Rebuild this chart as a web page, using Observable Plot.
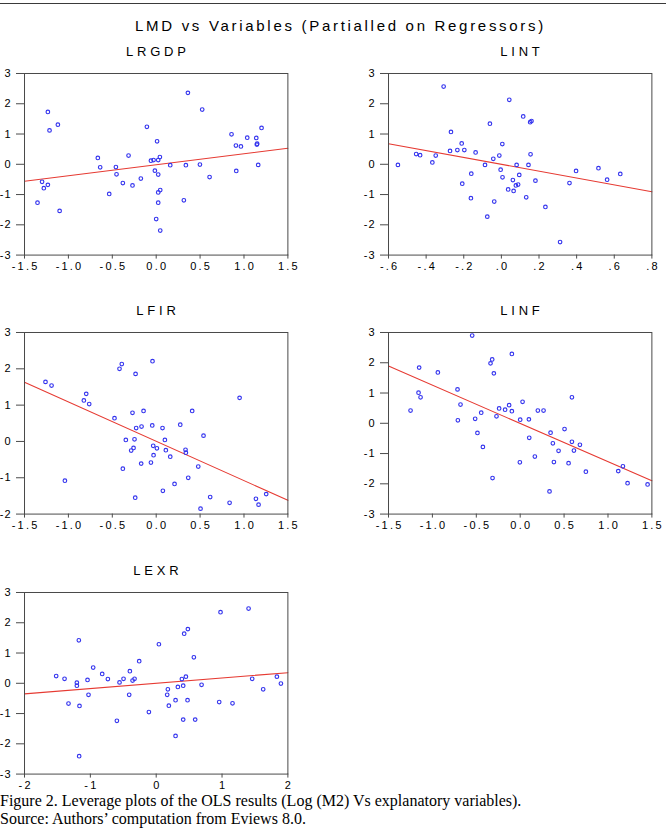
<!DOCTYPE html>
<html>
<head>
<meta charset="utf-8">
<script src="https://cdn.jsdelivr.net/npm/d3@7"></script>
<script src="https://cdn.jsdelivr.net/npm/@observablehq/plot@0.6"></script>
<style>
  body { margin: 0; background: #fff; }
  #page { position: relative; width: 666px; height: 831px; overflow: hidden; background: #fff;
          font-family: Arial, "Liberation Sans", sans-serif; color: #000; }
  .rule { position: absolute; left: 0; top: 2.6px; width: 666px; height: 1.6px; background: #3a3a3a; }
  .title { position: absolute; top: 18px; left: 135px; font-size: 15px;
           letter-spacing: 2.7px; white-space: nowrap; line-height: 1; }
  .ptitle { position: absolute; font-size: 13px; letter-spacing: 3.8px; white-space: nowrap; line-height: 1;
            transform: translateX(-50%); }
  .panel { position: absolute; }
  .caption { position: absolute; left: 0; font-family: "Liberation Serif", "Times New Roman", serif;
             font-size: 16px; white-space: nowrap; line-height: 1; }
</style>
</head>
<body>
<div id="page"></div>
<script>
// Partial residual (leverage) data: LMD against each regressor
const lrgdpX = [-1.352,-1.30,-1.28,-1.234,-1.234,-1.215,-1.12,-1.10,-0.665,-0.638,-0.535,-0.459,-0.452,-0.38,-0.315,-0.27,-0.175,-0.106,-0.06,-0.03,-0.015,0.0,0.01,0.023,0.023,0.023,0.023,0.042,0.046,0.046,0.16,0.315,0.338,0.361,0.498,0.524,0.608,0.858,0.908,0.912,0.965,1.037,1.14,1.147,1.15,1.162,1.20];
const lrgdpY = [-1.27,-0.58,-0.79,-0.68,1.73,1.12,1.31,-1.54,0.21,-0.10,-0.98,-0.09,-0.33,-0.62,0.29,-0.70,-0.47,1.24,0.12,0.14,-0.21,-1.81,0.76,0.14,-0.34,-0.93,-1.27,0.24,-0.85,-2.19,-0.03,-1.19,-0.03,2.36,-0.01,1.81,-0.42,0.99,0.62,-0.22,0.59,0.88,0.87,0.65,0.68,-0.02,1.20];

const lintX = [-0.55,-0.453,-0.432,-0.367,-0.349,-0.307,-0.273,-0.268,-0.234,-0.211,-0.208,-0.197,-0.16,-0.162,-0.137,-0.087,-0.075,-0.061,-0.043,-0.038,-0.011,-0.004,0.006,0.005,0.036,0.042,0.061,0.065,0.077,0.081,0.089,0.095,0.116,0.132,0.144,0.153,0.155,0.16,0.181,0.234,0.312,0.362,0.397,0.516,0.562,0.632];
const lintY = [-0.02,0.34,0.30,0.06,0.29,2.57,0.44,1.07,0.47,0.69,-0.64,0.47,-0.31,-1.12,0.39,-0.02,-1.73,1.34,0.18,-1.23,0.29,-0.18,-0.43,0.67,-0.83,2.13,-0.52,-0.88,-0.70,-0.02,-0.67,-0.35,1.58,-1.09,-0.02,1.39,0.33,1.43,-0.54,-1.41,-2.57,-0.62,-0.22,-0.13,-0.51,-0.32];

const lfirX = [-1.261,-1.192,-1.04,-0.824,-0.797,-0.763,-0.475,-0.418,-0.392,-0.38,-0.346,-0.285,-0.27,-0.258,-0.247,-0.239,-0.235,-0.228,-0.171,-0.167,-0.144,-0.06,-0.045,-0.042,-0.034,-0.03,0.008,0.072,0.076,0.099,0.11,0.16,0.209,0.274,0.334,0.338,0.365,0.41,0.479,0.505,0.539,0.615,0.836,0.95,1.136,1.166,1.253];
const lfirY = [1.64,1.54,-1.08,1.13,1.31,1.03,0.64,2.0,2.13,-0.75,0.04,-0.25,0.79,-0.18,0.06,-1.55,1.86,0.37,-0.61,0.41,0.84,-0.58,0.44,2.21,-0.12,-0.38,-0.19,0.37,-1.36,0.04,-0.24,-0.42,-1.17,0.46,-0.23,-0.31,-1.0,0.84,-0.69,-1.85,0.16,-1.53,-1.69,1.2,-1.58,-1.74,-1.45];

const linfX = [-1.249,-1.158,-1.151,-1.135,-0.938,-0.714,-0.71,-0.68,-0.547,-0.513,-0.487,-0.444,-0.425,-0.338,-0.319,-0.315,-0.30,-0.27,-0.24,-0.172,-0.126,-0.095,-0.095,-0.004,0.0,0.027,0.099,0.103,0.167,0.201,0.266,0.334,0.346,0.372,0.384,0.437,0.505,0.551,0.589,0.589,0.612,0.68,0.748,1.117,1.170,1.223,1.451];
const linfY = [0.42,1.01,1.84,0.86,1.68,1.12,0.10,0.62,2.90,0.15,-0.32,0.35,-0.78,1.98,2.11,-1.81,1.65,0.23,0.49,0.45,0.60,2.29,0.40,-1.29,0.12,0.71,0.13,-0.48,-1.10,0.42,0.42,-2.25,-0.31,-0.66,-1.28,-0.91,-0.19,-1.32,0.86,-0.61,-0.90,-0.71,-1.60,-1.58,-1.42,-1.98,-2.02];

const lexrX = [-1.519,-1.392,-1.332,-1.205,-1.205,-1.175,-1.165,-1.17,-1.043,-1.028,-0.957,-0.82,-0.734,-0.597,-0.557,-0.496,-0.41,-0.40,-0.359,-0.329,-0.258,-0.111,0.041,0.167,0.177,0.192,0.294,0.294,0.329,0.39,0.41,0.41,0.425,0.451,0.476,0.481,0.572,0.592,0.689,0.957,0.977,1.159,1.403,1.458,1.625,1.833,1.894];
const lexrY = [0.24,0.15,-0.67,0.02,-0.08,1.42,-0.75,-2.41,0.11,-0.38,0.52,0.31,0.14,-1.24,0.03,0.15,-0.38,0.40,0.09,0.15,0.73,-0.95,1.29,-0.38,-0.20,-0.74,-0.56,-1.74,-0.12,0.14,-0.08,-1.20,1.64,0.22,-0.56,1.79,0.86,-1.20,-0.05,-0.62,2.35,-0.66,2.47,0.15,-0.20,0.22,-0.01];

// Fitted line: y value at the left and right edges of each x domain
const lrgdpFit = [-0.56, 0.53];
const lintFit = [0.68, -0.91];
const lfirFit = [1.63, -1.62];
const linfFit = [1.89, -1.90];
const lexrFit = [-0.35, 0.35];

// Axis ticks and their labels
const halfTicks = [-1.5, -1.0, -0.5, 0.0, 0.5, 1.0, 1.5];
const halfLabels = ["-1.5", "-1.0", "-0.5", "0.0", "0.5", "1.0", "1.5"];
const lintTicks = [-0.6, -0.4, -0.2, 0.0, 0.2, 0.4, 0.6, 0.8];
const lintLabels = ["-.6", "-.4", "-.2", ".0", ".2", ".4", ".6", ".8"];
const lexrTicks = [-2, -1, 0, 1, 2];
const lexrLabels = ["-2", "-1", "0", "1", "2"];
const yTicksFull = [-3, -2, -1, 0, 1, 2, 3];
const yTicksLfir = [-2, -1, 0, 1, 2, 3];

const mainTitle = "LMD vs Variables (Partialled on Regressors)";
const captionLines = [
  "Figure 2. Leverage plots of the OLS results (Log (M2) Vs explanatory variables).",
  "Source: Authors\u2019 computation from Eviews 8.0."
];

const FW = 263.4, FH = 181.6;
const panels = [
  { name: "LRGDP", fx: 24.3,  fy: 72.7,  xs: lrgdpX, ys: lrgdpY, xd: [-1.5, 1.5], yd: [-3, 3], xt: halfTicks, xl: halfLabels, yt: yTicksFull, fit: lrgdpFit },
  { name: "LINT",  fx: 388.3, fy: 72.7,  xs: lintX,  ys: lintY,  xd: [-0.6, 0.8], yd: [-3, 3], xt: lintTicks, xl: lintLabels, yt: yTicksFull, fit: lintFit },
  { name: "LFIR",  fx: 24.3,  fy: 332.3, xs: lfirX,  ys: lfirY,  xd: [-1.5, 1.5], yd: [-2, 3], xt: halfTicks, xl: halfLabels, yt: yTicksLfir, fit: lfirFit },
  { name: "LINF",  fx: 388.3, fy: 332.3, xs: linfX,  ys: linfY,  xd: [-1.5, 1.5], yd: [-3, 3], xt: halfTicks, xl: halfLabels, yt: yTicksFull, fit: linfFit },
  { name: "LEXR",  fx: 24.3,  fy: 591.7, xs: lexrX,  ys: lexrY,  xd: [-2, 2],     yd: [-3, 3], xt: lexrTicks, xl: lexrLabels, yt: yTicksFull, fit: lexrFit }
];

const page = document.getElementById("page");

const rule = document.createElement("div");
rule.className = "rule";
page.appendChild(rule);

const title = document.createElement("div");
title.className = "title";
title.textContent = mainTitle;
page.appendChild(title);

const mL = 30, mR = 14, mT = 6, mB = 26;

for (const p of panels) {
  const pts = p.xs.map((x, i) => ({ x, y: p.ys[i] }));
  const fitPts = [{ x: p.xd[0], y: p.fit[0] }, { x: p.xd[1], y: p.fit[1] }];

  const chart = Plot.plot({
    width: mL + FW + mR,
    height: mT + FH + mB,
    marginLeft: mL, marginRight: mR, marginTop: mT, marginBottom: mB,
    x: { domain: p.xd, label: null },
    y: { domain: p.yd, label: null },
    style: { fontFamily: "Arial, 'Liberation Sans', sans-serif", fontSize: "11px", color: "#000",
             background: "transparent", overflow: "visible" },
    marks: [
      Plot.line(fitPts, { x: "x", y: "y", stroke: "#e63a32", strokeWidth: 1.1 }),
      Plot.dot(pts, { x: "x", y: "y", r: 1.8, stroke: "#3434ee", strokeWidth: 1.15, fill: "none" }),
      Plot.frame({ stroke: "#4a4a4a", strokeWidth: 1 }),
      Plot.axisX({ ticks: p.xt, tickFormat: (d, i) => p.xl[i], tickSize: 4, tickPadding: 3.5, stroke: "#4a4a4a", fill: "#000" }),
      Plot.axisY({ ticks: p.yt, tickFormat: d => String(d), tickSize: 8, tickPadding: 5, stroke: "#4a4a4a", fill: "#000" })
    ]
  });
  d3.select(chart).selectAll('g[aria-label="x-axis tick label"] text').attr("letter-spacing", "2.2px").attr("dx", "1.1px");
  d3.select(chart).selectAll('g[aria-label="y-axis tick label"] text').attr("letter-spacing", "1px");

  chart.classList.add("panel");
  chart.style.left = (p.fx - mL) + "px";
  chart.style.top = (p.fy - mT) + "px";
  page.appendChild(chart);

  const t = document.createElement("div");
  t.className = "ptitle";
  t.textContent = p.name;
  t.style.left = (p.fx + FW / 2 + 1.9) + "px";
  t.style.top = (p.fy - 28) + "px";
  page.appendChild(t);
}

captionLines.forEach((line, i) => {
  const c = document.createElement("div");
  c.className = "caption";
  c.textContent = line;
  c.style.top = (792.6 + i * 18) + "px";
  page.appendChild(c);
});
</script>
</body>
</html>
